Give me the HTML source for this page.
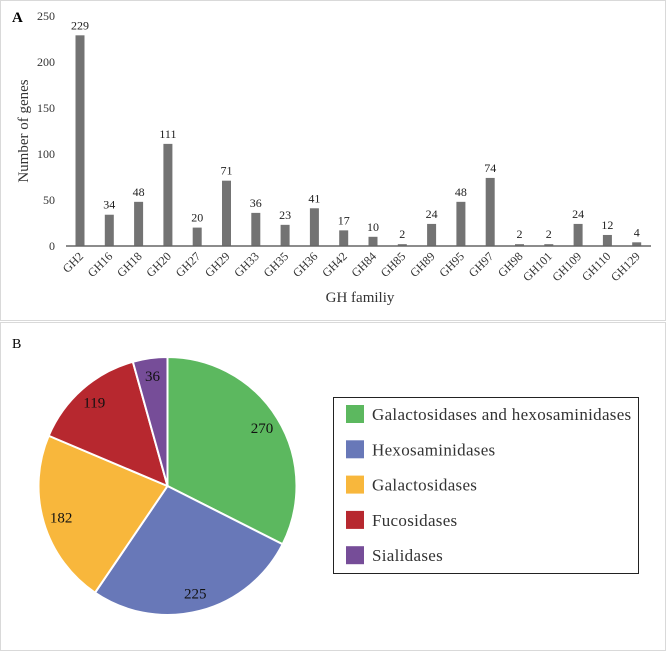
<!DOCTYPE html>
<html><head><meta charset="utf-8"><style>
body{margin:0;background:#fff;font-family:"Liberation Serif",serif;}
svg text{font-family:"Liberation Serif",serif;}
</style></head><body>
<svg width="666" height="651" viewBox="0 0 666 651">
<rect x="0.5" y="0.5" width="665" height="320" fill="#fff" stroke="#d9d9d9"/>
<rect x="0.5" y="322.5" width="665" height="328" fill="#fff" stroke="#d9d9d9"/>
<text x="12" y="22" font-size="15" font-weight="bold">A</text>
<text x="12" y="348" font-size="14">B</text>
<g id="bars"></g>
<g id="pie"></g>
<g>
<rect x="333.5" y="397.5" width="305" height="176" fill="#fff" stroke="#222"/>
<g id="legend"></g>
</g>
</svg>
<script>
const categories=["GH2","GH16","GH18","GH20","GH27","GH29","GH33","GH35","GH36","GH42","GH84","GH85","GH89","GH95","GH97","GH98","GH101","GH109","GH110","GH129"];
const geneCounts=[229,34,48,111,20,71,36,23,41,17,10,2,24,48,74,2,2,24,12,4];
const yTicks=[0,50,100,150,200,250];
const pieLabels=["Galactosidases and hexosaminidases","Hexosaminidases","Galactosidases","Fucosidases","Sialidases"];
const pieValues=[270,225,182,119,36];
const pieColors=["#5cb85f","#6878b8","#f8b73c","#b7282f","#764d98"];
const NS="http://www.w3.org/2000/svg";
function mk(t,a,p){const e=document.createElementNS(NS,t);for(const k in a)e.setAttribute(k,a[k]);p.appendChild(e);return e;}
const g=document.getElementById('bars');
const y0=246,y1=16,ymax=250;
const yS=v=>y0-(v/ymax)*(y0-y1);
const x0=80,step=29.3;
const xS=i=>x0+i*step;
yTicks.forEach(t=>{const e=mk('text',{x:55,y:yS(t)+4,'font-size':12,'text-anchor':'end',fill:'#333'},g);e.textContent=t;

});
categories.forEach((c,i)=>{
 const v=geneCounts[i],x=xS(i);
 const b=mk('rect',{x:x-4.5,y:yS(v),width:9,height:y0-yS(v),fill:'#737373'},g);
 
 
 const l=mk('text',{x:x,y:yS(v)-6,'font-size':12,'text-anchor':'middle',fill:'#222'},g);l.textContent=v;
 
 
 const t=mk('text',{x:x+4,y:257,'font-size':12,'text-anchor':'end',fill:'#333',transform:`rotate(-45 ${x+4} 257)`},g);t.textContent=c;
 
 
});
const ax=mk('line',{x1:66,y1:y0,x2:651,y2:y0,stroke:'#666','stroke-width':1.5},g);


const yt=mk('text',{x:0,y:0,'font-size':15,'text-anchor':'middle',fill:'#333',transform:'translate(28,131) rotate(-90)'},g);yt.textContent='Number of genes';


const xt=mk('text',{x:360,y:302,'font-size':15,'text-anchor':'middle',fill:'#333'},g);xt.textContent='GH familiy';


// pie
const p=document.getElementById('pie');
const cx=167.5,cy=486,r=129;
const total=pieValues.reduce((a,b)=>a+b,0);
let a=-Math.PI/2;
pieValues.forEach((v,i)=>{
 const da=v/total*2*Math.PI,a2=a+da;
 const d=`M${cx},${cy} L${cx+r*Math.cos(a)},${cy+r*Math.sin(a)} A${r},${r} 0 ${da>Math.PI?1:0} 1 ${cx+r*Math.cos(a2)},${cy+r*Math.sin(a2)} Z`;
 const s=mk('path',{d:d,fill:pieColors[i],stroke:'#fff','stroke-width':2},p);
 
 
 const m=(a+a2)/2,lr=r*0.86;
 const t=mk('text',{x:cx+lr*Math.cos(m),y:cy+lr*Math.sin(m)+5,'font-size':15,'text-anchor':'middle',fill:'#111'},p);t.textContent=v;
 
 
 a=a2;
});
const lg=document.getElementById('legend');
pieLabels.forEach((n,i)=>{
 const yy=414+i*35.3;
 const s=mk('rect',{x:346,y:yy-9,width:18,height:18,fill:pieColors[i]},lg);
 
 
 const t=mk('text',{x:372,y:yy+6,'font-size':17,'letter-spacing':0.3,fill:'#333'},lg);t.textContent=n;
 
 
});
</script>
</body></html>
